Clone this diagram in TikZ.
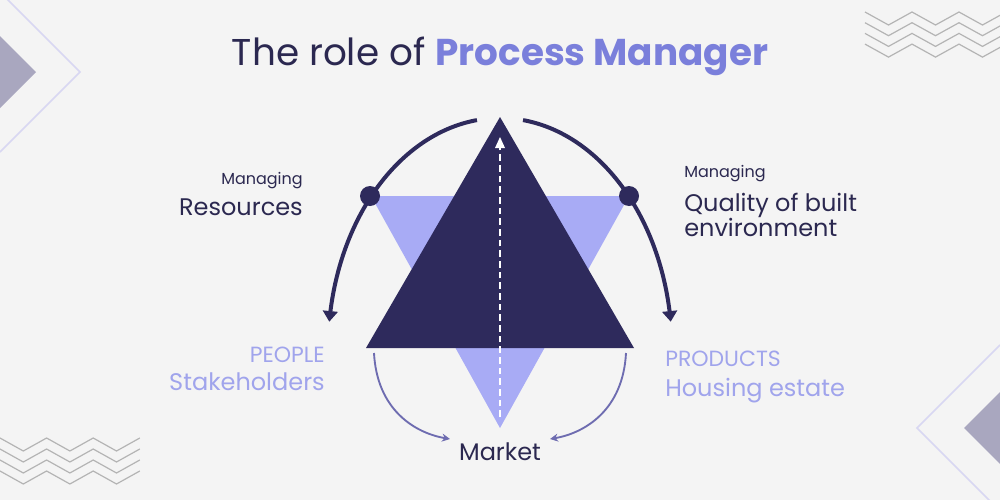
\documentclass[tikz,border=0pt]{standalone}
\usepackage{fontspec}
\setmainfont{Poppins}
\usetikzlibrary{arrows.meta}
\definecolor{bgc}{HTML}{F4F4F4}
\definecolor{navy}{HTML}{2E2A5C}
\definecolor{lightv}{HTML}{A8ABF5}
\definecolor{titleblue}{HTML}{7A7FDB}
\definecolor{softtext}{HTML}{A0A4EC}
\definecolor{midv}{HTML}{6E6CB0}
\definecolor{outl}{HTML}{D8D7F2}
\definecolor{diamondc}{HTML}{A9A7BF}
\definecolor{zig}{HTML}{B4B4B4}
\definecolor{textdark}{HTML}{2B2850}
\begin{document}
\begin{tikzpicture}[x=0.75pt,y=-0.75pt,
  bigarc/.style={draw=navy,line width=3pt,-{Triangle[length=8pt,width=11pt]}},
  smallarc/.style={draw=midv,line width=1.4pt,-{Stealth[length=6pt,width=6pt]}},
  zz/.style={draw=zig,line width=0.9pt},
  lbl/.style={inner sep=0pt,text=textdark},
  dot/.style={circle,fill=navy,minimum size=15pt,inner sep=0pt}]
\fill[bgc] (0,0) rectangle (1000,500);
\useasboundingbox (0,0) rectangle (1000,500);
% decorations
\draw[outl,line width=1.2pt] (0,-8) -- (80,72) -- (0,152);
\fill[diamondc] (0,36) -- (36,72) -- (0,108) -- cycle;
\draw[outl,line width=1.2pt] (1000,345) -- (917,428) -- (1000,511);
\fill[diamondc] (1000,392) -- (964,428) -- (1000,464) -- cycle;
\foreach \k in {0,1,2,3}{
  \draw[zz] (865,{12+10.7*\k}) -- ++(23.5,13) -- ++(23.5,-13) -- ++(23.5,13) -- ++(23.5,-13) -- ++(23.5,13) -- ++(23.5,-13);
  \draw[zz] (0,{438+11*\k}) -- ++(23.3,13) -- ++(23.3,-13) -- ++(23.3,13) -- ++(23.3,-13) -- ++(23.3,13) -- ++(23.3,-13);
}
% title
\node[inner sep=0pt,anchor=base] (title) at (500,65)
  {\fontsize{28}{34}\selectfont\textcolor{textdark}{The role of }\textcolor{titleblue}{\bfseries Process Manager}};
% triangles
\fill[lightv] (371,196) -- (629,196) -- (500,428) -- cycle;
\fill[navy] (500,117) -- (634,348) -- (366,348) -- cycle;
\coordinate (dtop) at (500,417);
\coordinate (dtip) at (500,137);
\draw[white,line width=1.3pt,dash pattern=on 5pt off 3pt] (dtop) -- (500,146);
\fill[white] (dtip) -- (505,148) -- (495,148) -- cycle;
% big arcs
\coordinate (lstart) at (477,118);
\coordinate (rstart) at (523,118);
\draw[bigarc] plot[domain=262.3:187,samples=80] ({500+172*cos(\x)},{350+232*sin(\x)});
\draw[bigarc] plot[domain=277.7:353,samples=80] ({500+172*cos(\x)},{350+232*sin(\x)});
\node[dot] (ldot) at (370,196) {};
\node[dot] (rdot) at (629,196) {};
% lower arcs
\node[lbl,anchor=base] (market) at (500,460) {\fontsize{18}{22}\selectfont Market};
\coordinate (lb) at (374,353);
\coordinate (rb) at (626,353);
\draw[smallarc] (lb) .. controls (377,410) and (415,433) .. (450,439);
\draw[smallarc] (rb) .. controls (623,410) and (585,433) .. (550,439);
% labels
\node[lbl,anchor=base east] (m1) at (303,184) {\fontsize{12}{14}\selectfont Managing};
\node[lbl,anchor=base east] (res) at (303,215) {\fontsize{18}{22}\selectfont Resources};
\node[lbl,anchor=base west] (m2) at (684,177) {\fontsize{12}{14}\selectfont Managing};
\node[lbl,anchor=base west] (q1) at (684,211) {\fontsize{18}{22}\selectfont Quality of built};
\node[lbl,anchor=base west] (q2) at (684,236) {\fontsize{18}{22}\selectfont environment};
\node[lbl,anchor=base east,text=softtext] (people) at (325,362) {\fontsize{16.5}{18}\selectfont PEOPLE};
\node[lbl,anchor=base east,text=softtext] (stake) at (325,390) {\fontsize{18}{22}\selectfont Stakeholders};
\node[lbl,anchor=base west,text=softtext] (prod) at (665,366) {\fontsize{16.5}{18}\selectfont PRODUCTS};
\node[lbl,anchor=base west,text=softtext] (house) at (665,396) {\fontsize{18}{22}\selectfont Housing estate};
\end{tikzpicture}
\end{document}
